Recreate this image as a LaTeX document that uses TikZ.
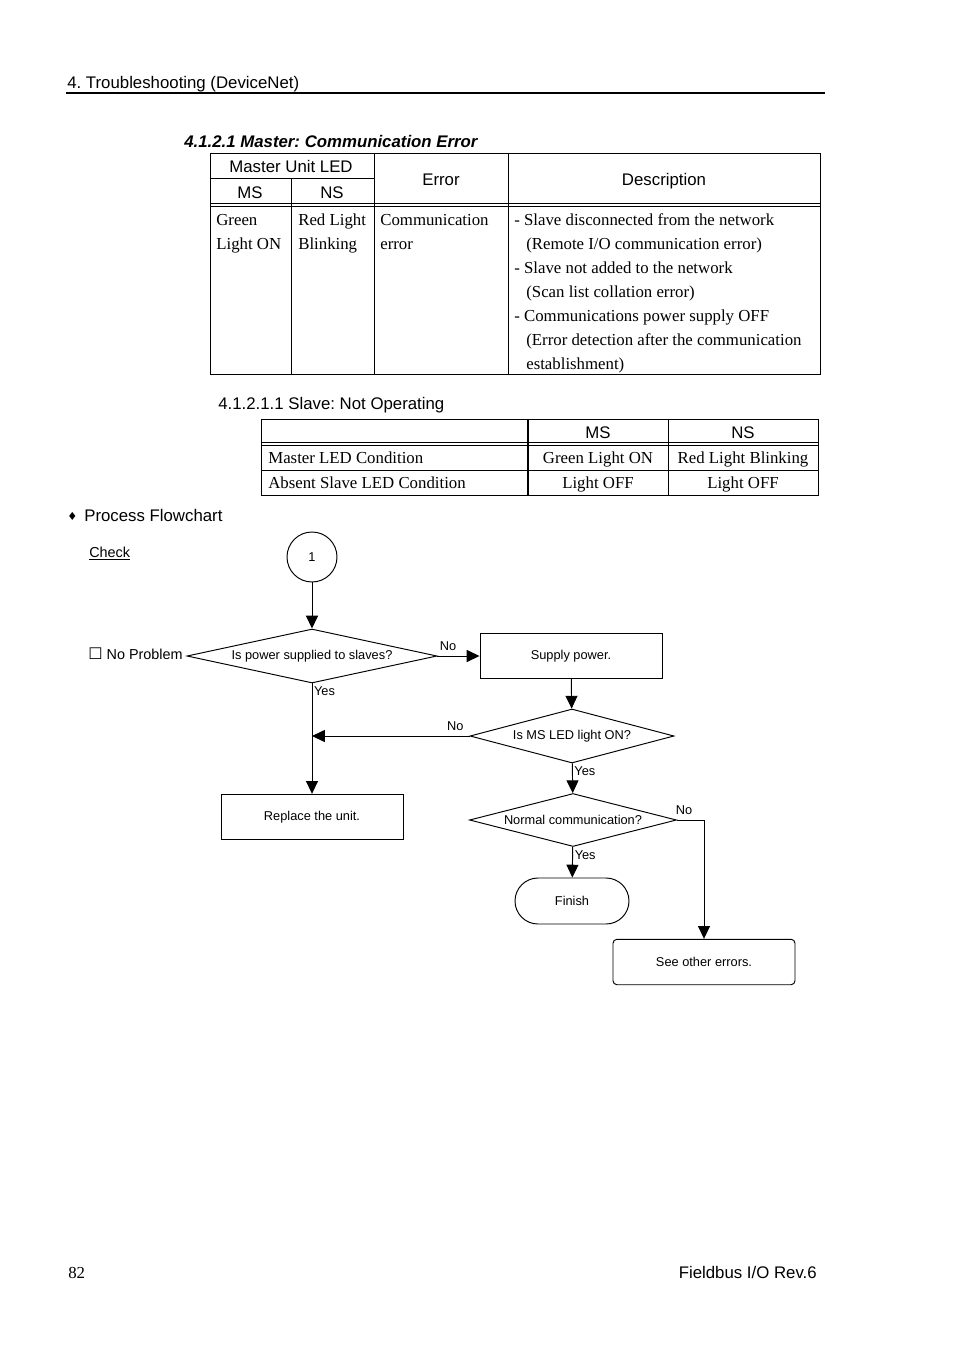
\documentclass[tikz,border=0pt]{standalone}
\usepackage{fontspec}
\setmainfont{Liberation Serif}
\setsansfont{Liberation Sans}
\newfontfamily\symfont{DejaVu Sans}
\usetikzlibrary{shapes.geometric,shapes.misc,arrows.meta}
\frenchspacing

\newcommand\hdfont{\sffamily\fontsize{10.5pt}{12.6pt}\selectfont}
\newcommand\tbfont{\rmfamily\fontsize{10.5pt}{12.6pt}\selectfont}
\newcommand\flfont{\sffamily\fontsize{8pt}{9.6pt}\selectfont}

\tikzset{
  txt/.style={inner sep=0pt, font=\hdfont},
  cell/.style={inner sep=0pt, anchor=base west, font=\tbfont},
  grid/.style={line width=0.6pt},
  flow/.style={draw, line width=0.6pt, inner sep=0pt, font=\flfont},
  start/.style={flow, circle, minimum size=31.25pt},
  decision/.style={flow, diamond, shape aspect=4.6, minimum height=33.75pt},
  proc/.style={flow, rectangle, minimum width=113.75pt, minimum height=28.4pt},
  stop/.style={flow, rounded rectangle, minimum width=71.25pt, minimum height=28.75pt},
  lbl/.style={inner sep=1pt, font=\flfont},
  arr/.style={line width=0.6pt, -{Triangle[length=8pt,width=7.5pt]}}
}

\begin{document}
\begin{tikzpicture}[x=0.625pt,y=-0.625pt]
\useasboundingbox (0,0) rectangle (954,1351);
% page head
\node[txt, anchor=base west] (head) at (67,88) {4. Troubleshooting (DeviceNet)};
\draw[line width=1.2pt] (66,93) -- (825,93);

% master table
\node[txt, anchor=base west, font=\hdfont\bfseries\itshape] (title1) at (184,147) {4.1.2.1 Master: Communication Error};
\draw[grid] (210,153) rectangle (820,374);
\draw[grid] (210,178) -- (374,178);
\draw[grid] (291,178) -- (291,374);
\draw[grid] (374,153) -- (374,374);
\draw[grid] (508,153) -- (508,374);
\draw[grid] (210,203) -- (820,203);
\draw[grid] (210,206) -- (820,206);
\node[txt, anchor=base] (led) at (291,172) {Master Unit LED};
\node[txt, anchor=base] (ms1) at (250,198) {MS};
\node[txt, anchor=base] (ns1) at (332,198) {NS};
\node[txt, anchor=base] (err) at (441,185) {Error};
\node[txt, anchor=base] (desc) at (664,185) {Description};
\node[cell] (msa) at (216,225) {Green};
\node[cell] (msb) at (216,249) {Light ON};
\node[cell] (nsa) at (298,225) {Red Light};
\node[cell] (nsb) at (298,249) {Blinking};
\node[cell] (erra) at (380,225) {Communication};
\node[cell] (errb) at (380,249) {error};
\node[cell] (da) at (514,225) {- Slave disconnected from the network};
\node[cell] (db) at (526,249) {(Remote I/O communication error)};
\node[cell] (dc) at (514,273) {- Slave not added to the network};
\node[cell] (dd) at (526,297) {(Scan list collation error)};
\node[cell] (de) at (514,321) {- Communications power supply OFF};
\node[cell] (df) at (526,345) {(Error detection after the communication};
\node[cell] (dg) at (526,369) {establishment)};

% slave table
\node[txt, anchor=base west] (title2) at (218,409) {4.1.2.1.1 Slave: Not Operating};
\draw[grid] (261,419) rectangle (818,495);
\draw[grid] (261,442) -- (818,442);
\draw[grid] (261,445) -- (818,445);
\draw[grid] (261,470) -- (818,470);
\draw[grid, line width=1.4pt] (528,419) -- (528,495);
\draw[grid] (668,419) -- (668,495);
\node[txt, anchor=base] (ms2) at (598,438) {MS};
\node[txt, anchor=base] (ns2) at (743,438) {NS};
\node[cell] (mrow) at (268,463) {Master LED Condition};
\node[cell, anchor=base] (mms) at (598,463) {Green Light ON};
\node[cell, anchor=base] (mns) at (743,463) {Red Light Blinking};
\node[cell] (srow) at (268,488) {Absent Slave LED Condition};
\node[cell, anchor=base] (sms) at (598,488) {Light OFF};
\node[cell, anchor=base] (sns) at (743,488) {Light OFF};

% flowchart
\node[inner sep=0pt, font=\symfont\fontsize{7pt}{8pt}\selectfont] (bullet) at (72.5,516) {♦};
\node[txt, anchor=base west] (proc) at (84,521) {Process Flowchart};
\node[txt, anchor=base west, font=\sffamily\fontsize{9pt}{11pt}\selectfont] (check) at (89,557) {\underline{Check}};
\node[txt, anchor=base east, font=\sffamily\fontsize{9pt}{11pt}\selectfont] (noprob) at (183,659) {{\symfont\fontsize{10pt}{11pt}\selectfont ☐} No Problem};

\node[start] (c1) at (312,557) {1};
\node[decision, minimum width=156.25pt] (d1) at (312,656) {Is power supplied to slaves?};
\node[proc] (supply) at (571,656) {Supply power.};
\node[decision, minimum width=127.5pt] (d2) at (572,736) {Is MS LED light ON?};
\node[proc] (replace) at (312,817) {Replace the unit.};
\node[decision, minimum width=129.4pt, minimum height=33.1pt] (d3) at (573,820) {Normal communication?};
\node[stop] (finish) at (572,901) {Finish};
\node[proc, rounded corners=2.5pt] (other) at (704,962) {See other errors.};
\coordinate (j1) at (312,736);

\draw[arr] (c1) -- (d1);
\draw[arr] (d1) -- node[lbl, pos=0.25, above=2pt] {No} (supply);
\draw[arr] (d1) -- node[lbl, pos=0, anchor=north west, yshift=-1pt] {Yes} (replace);
\draw[arr] (supply) -- (d2);
\draw[arr] (d2.west) -- node[lbl, pos=0.09, above=2pt] {No} (j1);
\draw[arr] (d2) -- node[lbl, pos=0, anchor=north west, yshift=-1pt] {Yes} (d3);
\draw[arr] (d3) -- node[lbl, pos=0, anchor=north west, yshift=-1pt] {Yes} (finish);
\draw[arr] (d3.east) -| node[lbl, pos=0.13, above=2pt] {No} (other);

% page foot
\node[cell] (pagenum) at (68,1278) {82};
\node[txt, anchor=base east] (rev) at (817,1278) {Fieldbus I/O Rev.6};
\end{tikzpicture}
\end{document}
